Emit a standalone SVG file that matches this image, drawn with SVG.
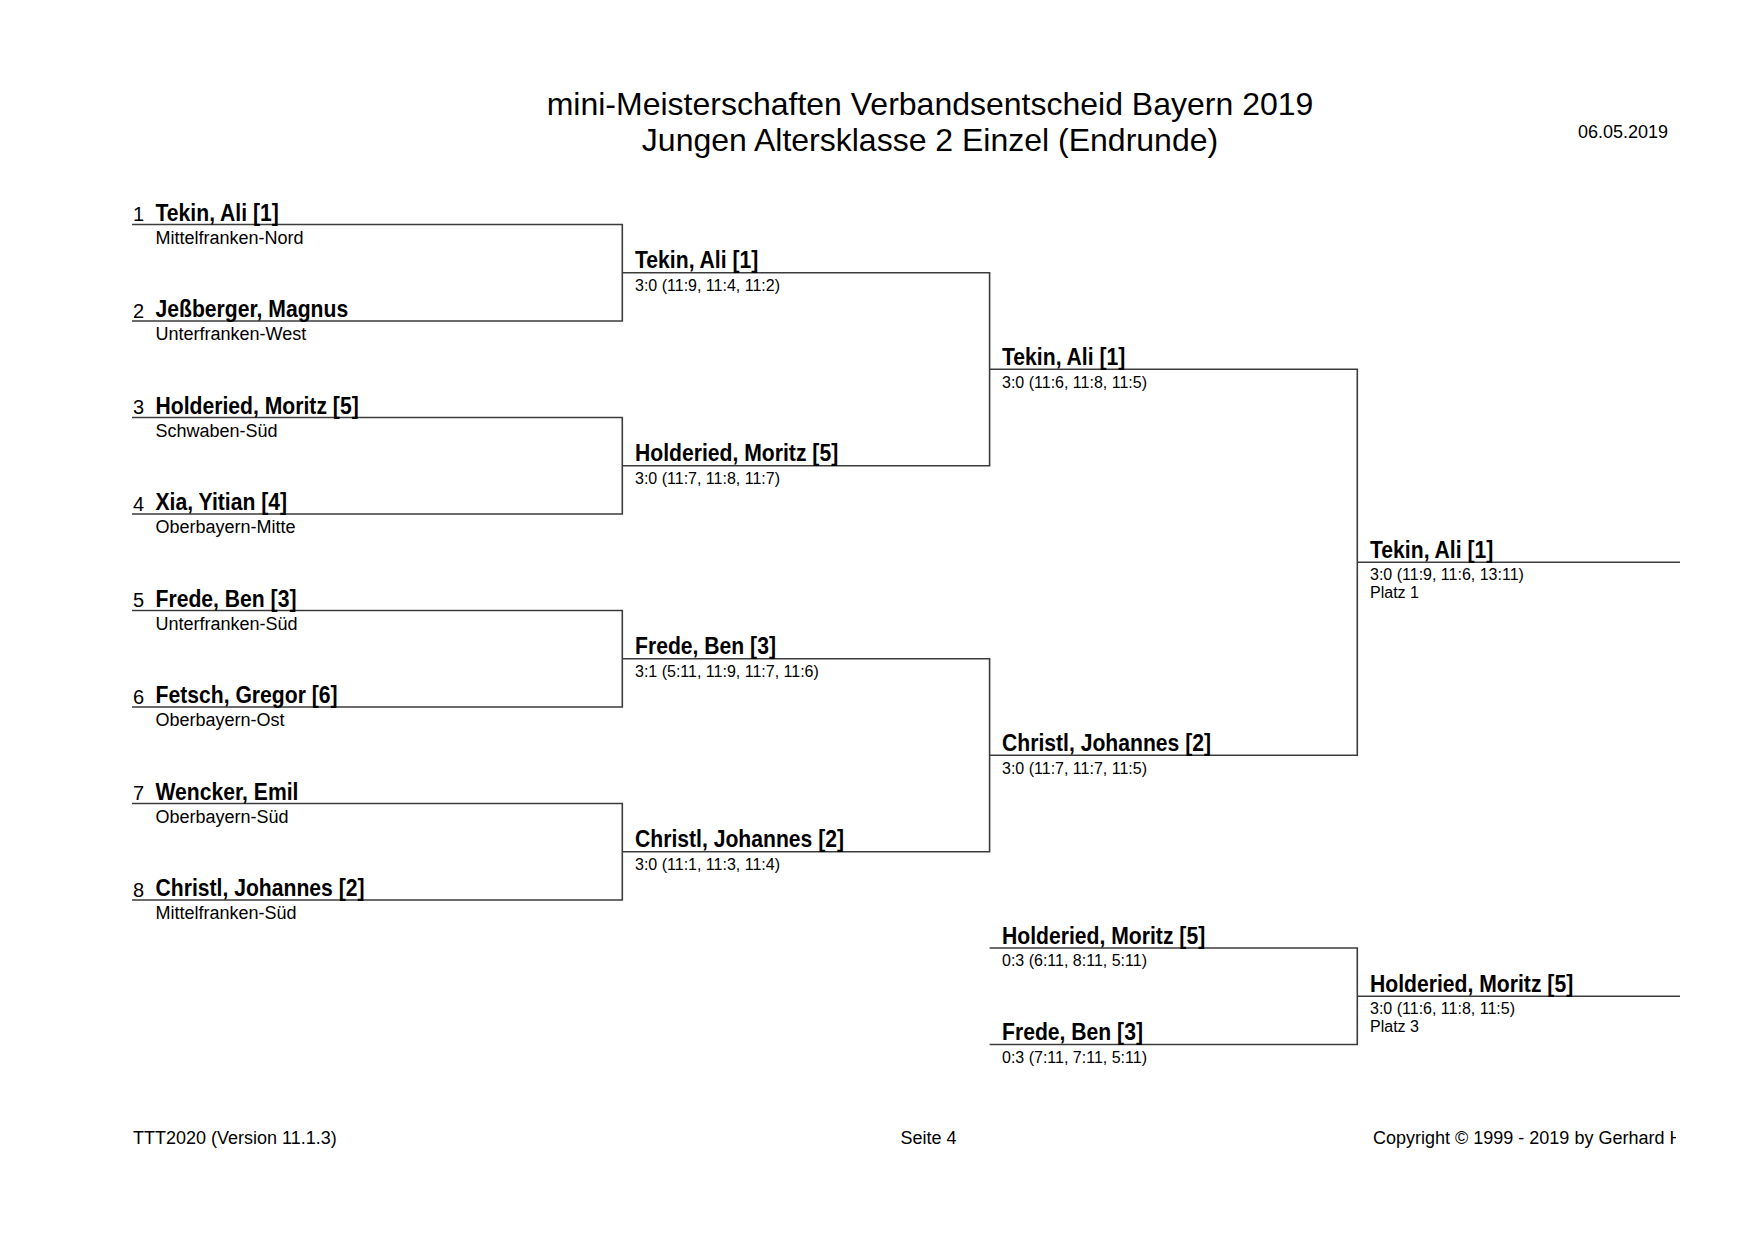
<svg xmlns="http://www.w3.org/2000/svg" width="1754" height="1240" viewBox="0 0 1754 1240">
<style>
text{font-family:"Liberation Sans",Arial,sans-serif;fill:#000}
.tt{font-size:32px;text-anchor:middle}
.nm{font-size:23px;font-weight:bold}
.no{font-size:20px}
.cl{font-size:18px}
.sc{font-size:16px}
.ft{font-size:18px}
.ln{fill:none;stroke:#3c3c3c;stroke-width:1.6}
</style>
<defs>
<clipPath id="clipR"><rect x="0" y="0" width="1676" height="1240"/></clipPath>
</defs>
<rect width="1754" height="1240" fill="#fff"/>
<g id="header">
<text class="tt" x="930" y="115">mini-Meisterschaften Verbandsentscheid Bayern 2019</text>
<text class="tt" x="930" y="151">Jungen Altersklasse 2 Einzel (Endrunde)</text>
<text class="ft" x="1578" y="138">06.05.2019</text>
</g>
<g id="connectors">
<path class="ln" d="M132 224.5H622.3V321H132"/>
<path class="ln" d="M132 417.5H622.3V514H132"/>
<path class="ln" d="M132 610.5H622.3V707H132"/>
<path class="ln" d="M132 803.5H622.3V900H132"/>
<path class="ln" d="M622.3 272.75H989.6V465.75H622.3"/>
<path class="ln" d="M622.3 658.75H989.6V851.75H622.3"/>
<path class="ln" d="M989.6 369.25H1357.3V755.25H989.6"/>
<path class="ln" d="M1357.3 562.25H1680"/>
<path class="ln" d="M989.6 948H1357.3V1044.5H989.6"/>
<path class="ln" d="M1357.3 996.25H1680"/>
</g>
<g id="p1"><text class="no" x="133" y="221">1</text><text class="nm" transform="translate(155.5 220.5) scale(0.92 1)">Tekin, Ali [1]</text><text class="cl" x="155.5" y="243.5">Mittelfranken-Nord</text></g>
<g id="p2"><text class="no" x="133" y="317.5">2</text><text class="nm" transform="translate(155.5 317) scale(0.92 1)">Jeßberger, Magnus</text><text class="cl" x="155.5" y="340">Unterfranken-West</text></g>
<g id="p3"><text class="no" x="133" y="414">3</text><text class="nm" transform="translate(155.5 413.5) scale(0.92 1)">Holderied, Moritz [5]</text><text class="cl" x="155.5" y="436.5">Schwaben-Süd</text></g>
<g id="p4"><text class="no" x="133" y="510.5">4</text><text class="nm" transform="translate(155.5 510) scale(0.92 1)">Xia, Yitian [4]</text><text class="cl" x="155.5" y="533">Oberbayern-Mitte</text></g>
<g id="p5"><text class="no" x="133" y="607">5</text><text class="nm" transform="translate(155.5 606.5) scale(0.92 1)">Frede, Ben [3]</text><text class="cl" x="155.5" y="629.5">Unterfranken-Süd</text></g>
<g id="p6"><text class="no" x="133" y="703.5">6</text><text class="nm" transform="translate(155.5 703) scale(0.92 1)">Fetsch, Gregor [6]</text><text class="cl" x="155.5" y="726">Oberbayern-Ost</text></g>
<g id="p7"><text class="no" x="133" y="800">7</text><text class="nm" transform="translate(155.5 799.5) scale(0.92 1)">Wencker, Emil</text><text class="cl" x="155.5" y="822.5">Oberbayern-Süd</text></g>
<g id="p8"><text class="no" x="133" y="896.5">8</text><text class="nm" transform="translate(155.5 896) scale(0.92 1)">Christl, Johannes [2]</text><text class="cl" x="155.5" y="919">Mittelfranken-Süd</text></g>
<g id="r2m1"><text class="nm" transform="translate(635 268) scale(0.92 1)">Tekin, Ali [1]</text><text class="sc" x="635" y="291">3:0 (11:9, 11:4, 11:2)</text></g>
<g id="r2m2"><text class="nm" transform="translate(635 461) scale(0.92 1)">Holderied, Moritz [5]</text><text class="sc" x="635" y="484">3:0 (11:7, 11:8, 11:7)</text></g>
<g id="r2m3"><text class="nm" transform="translate(635 654) scale(0.92 1)">Frede, Ben [3]</text><text class="sc" x="635" y="677">3:1 (5:11, 11:9, 11:7, 11:6)</text></g>
<g id="r2m4"><text class="nm" transform="translate(635 847) scale(0.92 1)">Christl, Johannes [2]</text><text class="sc" x="635" y="870">3:0 (11:1, 11:3, 11:4)</text></g>
<g id="r3m1"><text class="nm" transform="translate(1002 364.5) scale(0.92 1)">Tekin, Ali [1]</text><text class="sc" x="1002" y="387.5">3:0 (11:6, 11:8, 11:5)</text></g>
<g id="r3m2"><text class="nm" transform="translate(1002 750.5) scale(0.92 1)">Christl, Johannes [2]</text><text class="sc" x="1002" y="773.5">3:0 (11:7, 11:7, 11:5)</text></g>
<g id="final"><text class="nm" transform="translate(1370 557.5) scale(0.92 1)">Tekin, Ali [1]</text><text class="sc" x="1370" y="580">3:0 (11:9, 11:6, 13:11)</text><text class="sc" x="1370" y="597.5">Platz 1</text></g>
<g id="p3a"><text class="nm" transform="translate(1002 943.5) scale(0.92 1)">Holderied, Moritz [5]</text><text class="sc" x="1002" y="966">0:3 (6:11, 8:11, 5:11)</text></g>
<g id="p3b"><text class="nm" transform="translate(1002 1040) scale(0.92 1)">Frede, Ben [3]</text><text class="sc" x="1002" y="1062.5">0:3 (7:11, 7:11, 5:11)</text></g>
<g id="third"><text class="nm" transform="translate(1370 991.5) scale(0.92 1)">Holderied, Moritz [5]</text><text class="sc" x="1370" y="1014">3:0 (11:6, 11:8, 11:5)</text><text class="sc" x="1370" y="1031.5">Platz 3</text></g>
<g id="footer">
<text class="ft" x="133" y="1143.5">TTT2020 (Version 11.1.3)</text>
<text class="ft" x="900.5" y="1143.5">Seite 4</text>
<text class="ft" x="1373" y="1143.5" clip-path="url(#clipR)">Copyright © 1999 - 2019 by Gerhard H</text>
</g>
</svg>
